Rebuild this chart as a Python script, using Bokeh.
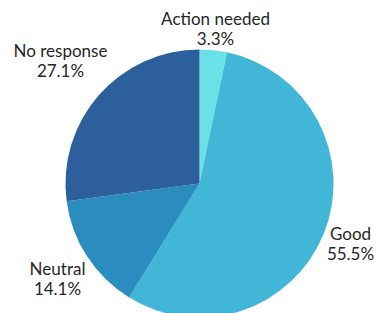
import numpy as np
from bokeh.plotting import figure
from bokeh.models import ColumnDataSource, Range1d
from bokeh.core.properties import value
from bokeh.embed import file_html
from bokeh.resources import INLINE

# data
categories = ["Action needed", "Good", "Neutral", "No response"]
shares = [3.3, 55.5, 14.1, 27.1]
pct_labels = ["3.3%", "55.5%", "14.1%", "27.1%"]
colors = ["#6ae0e7", "#41b6d7", "#2a8cbf", "#2c5f9c"]

# layout (in picture pixel coords, y downward)
center = (199, 183)
radius = 134
label_pos = [(215, 18), (350, 233), (57, 268), (60, 50)]
line_gap = 20

W, H = 378, 313
p = figure(width=W, height=H, output_backend="svg", toolbar_location=None,
           x_range=Range1d(0, W), y_range=Range1d(-H, 0),
           x_axis_type=None, y_axis_type=None, min_border=0,
           outline_line_color=None)
p.grid.visible = False

frac = np.array(shares) / np.sum(shares)
cum = np.concatenate([[0], np.cumsum(frac)])
start = np.pi / 2 - cum[:-1] * 2 * np.pi
end = np.pi / 2 - cum[1:] * 2 * np.pi

src = ColumnDataSource(dict(cat=categories, start=start, end=end, color=colors))
p.wedge(x=center[0], y=-center[1], radius=radius, start_angle="start", end_angle="end",
        direction="clock", fill_color="color", line_color=None, source=src)

lx = [q[0] for q in label_pos]
ly1 = [-q[1] for q in label_pos]
ly2 = [-(q[1] + line_gap) for q in label_pos]
lsrc = ColumnDataSource(dict(x=lx, y1=ly1, y2=ly2, name=categories, pct=pct_labels))
common = dict(text_align="center", text_baseline="middle", text_font=value("Lato"),
              text_font_size="17px", text_color="#262626", source=lsrc)
p.text(x="x", y="y1", text="name", **common)
p.text(x="x", y="y2", text="pct", **common)

open("out.html", "w").write(file_html(p, INLINE))
